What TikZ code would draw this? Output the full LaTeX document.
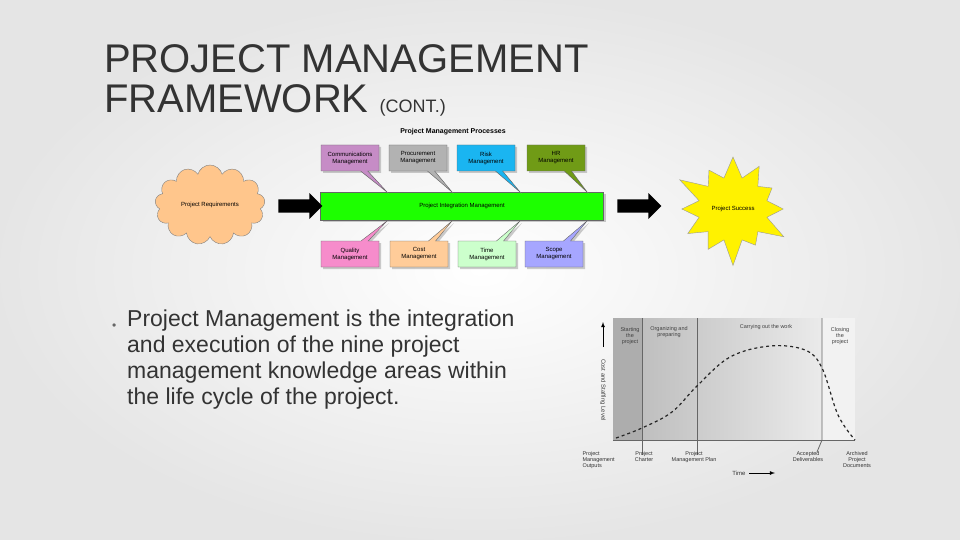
\documentclass[tikz,border=0pt]{standalone}
\usepackage{fontspec}
\setmainfont{Liberation Sans}
\usetikzlibrary{shapes,shapes.callouts,shapes.symbols,shapes.arrows,arrows.meta,positioning,shadows}

\begin{document}
\begin{tikzpicture}[
        x=1pt, y=-1pt,
        >=latex,
        % Block styles
        callbox/.style={
            rectangle callout,
            draw=black!60,
            minimum height=26pt,
            minimum width=58pt,
            align=center,
            font=\fontsize{6}{7}\selectfont,
            inner sep=1pt,
            drop shadow={shadow xshift=2pt, shadow yshift=-2pt, fill=black!40},
            fill=#1
        },
        blockarrow/.style={
            single arrow,
            fill=black,
            minimum height=44pt,
            minimum width=26pt,
            single arrow head extend=3pt,
            inner sep=3pt
        },
        phase/.style={font=\fontsize{5.5}{6}\selectfont, align=center, text=black!75},
        milestone/.style={font=\fontsize{5.5}{6}\selectfont, align=center, text=black!80, anchor=north}
    ]
    \useasboundingbox (0,0) rectangle (960,540);
    \shade[inner color=white, outer color=black!10] (0,0) rectangle (960,540);

    % Title
    \node[anchor=base west, font=\fontsize{40}{40}\selectfont, text=black!80, inner sep=0] (title1) at (104,73) {PROJECT MANAGEMENT};
    \node[anchor=base west, font=\fontsize{40}{40}\selectfont, text=black!80, inner sep=0] (title2) at (104,113) {FRAMEWORK {\fontsize{18}{18}\selectfont (CONT.)}};

    % Processes
    \node[font=\fontsize{7}{8}\selectfont\bfseries] (proc) at (453,132) {Project Management Processes};
    \node[draw=black!60, fill=green!85!lime, minimum width=283pt, minimum height=28pt,
          font=\fontsize{6}{7}\selectfont, drop shadow={shadow xshift=2pt, shadow yshift=-2pt, fill=black!40}] (pim) at (462,206) {Project Integration Management};

    \node[callbox=violet!45, callout absolute pointer={(387,192)}] (comm) at (350,158) {Communications\\Management};
    \node[callbox=black!30, callout absolute pointer={(452,192)}] (procure) at (418,158) {Procurement\\Management};
    \node[callbox=cyan!90, callout absolute pointer={(520,192)}] (risk) at (486,158) {Risk\\Management};
    \node[callbox=olive!60!green, callout absolute pointer={(587,192)}] (hr) at (556,158) {HR\\Management};

    \node[callbox=magenta!45, callout absolute pointer={(387,221)}] (quality) at (350,254) {Quality\\Management};
    \node[callbox=orange!40, callout absolute pointer={(452,221)}] (cost) at (419,254) {Cost\\Management};
    \node[callbox=green!20, callout absolute pointer={(520,221)}] (time) at (487,254) {Time\\Management};
    \node[callbox=blue!35, callout absolute pointer={(587,221)}] (scope) at (554,254) {Scope\\Management};

    \node[cloud, cloud puffs=13, aspect=1.5, draw=black!50, fill=orange!45,
          minimum width=110pt, minimum height=80pt, font=\fontsize{6}{7}\selectfont] (req) at (210,205) {Project Requirements};
    \node[starburst, starburst points=12, starburst point height=28pt, draw=black!40, fill=yellow,
          minimum width=125pt, minimum height=120pt, font=\fontsize{6}{7}\selectfont] (success) at (733,209) {Project Success};

    \node[blockarrow] (arrin) at (297,206) {};
    \node[blockarrow] (arrout) at (636,206) {};

    % Bullet text
    \node[anchor=base west, font=\fontsize{12}{12}\selectfont, text=black!60, inner sep=0] (dot) at (112,329) {•};
    \node[anchor=north west, font=\fontsize{23}{26}\selectfont, text=black!80, align=left, inner sep=0] (body) at (127,310)
        {Project Management is the integration\\and execution of the nine project\\management knowledge areas within\\the life cycle of the project.};

    % Life cycle chart
    \shade[left color=black!28, right color=black!8] (613,318) rectangle (822,440);
    \fill[black!5] (822,318) rectangle (855,440);
    \fill[black!32] (613,318) rectangle (642,440);
    \draw[black!60, thick] (642,318) -- (642,455);
    \draw[black!60, thick] (697,318) -- (697,455);
    \draw[black!60, thick] (822,318) -- (822,440) -- (817,452);
    \draw[black!60] (613,440) -- (855,440);
    \draw[very thick, dashed, black!85] plot[smooth, tension=0.6] coordinates
        {(616,438) (642,428) (672,412) (697,386) (730,357) (770,346) (805,350) (822,368) (838,415) (855,440)};
    \coordinate (ybot) at (603,347);
    \coordinate (ytop) at (603,322);
    \draw[->, thick] (ybot) -- (ytop);
    \node[rotate=-90, font=\fontsize{6}{7}\selectfont, text=black!75] (ylab) at (603,390) {Cost and Staffing Level};
    \node[phase] (ph1) at (630,336) {Starting\\the\\project};
    \node[phase] (ph2) at (669,332) {Organizing and\\preparing};
    \node[phase] (ph3) at (766,327) {Carrying out the work};
    \node[phase] (ph4) at (840,336) {Closing\\the\\project};
    \node[milestone, align=left, anchor=north west] (ms0) at (579,448) {Project\\Management\\Outputs};
    \node[milestone] (ms1) at (644,448) {Project\\Charter};
    \node[milestone] (ms2) at (694,448) {Project\\Management Plan};
    \node[milestone] (ms3) at (808,448) {Accepted\\Deliverables};
    \node[milestone] (ms4) at (857,448) {Archived\\Project\\Documents};
    \node[font=\fontsize{6}{7}\selectfont, text=black!80] (tlab) at (739,473) {Time};
    \coordinate (tend) at (775,473);
    \draw[->, thick] (tlab) -- (tend);
\end{tikzpicture}
\end{document}
